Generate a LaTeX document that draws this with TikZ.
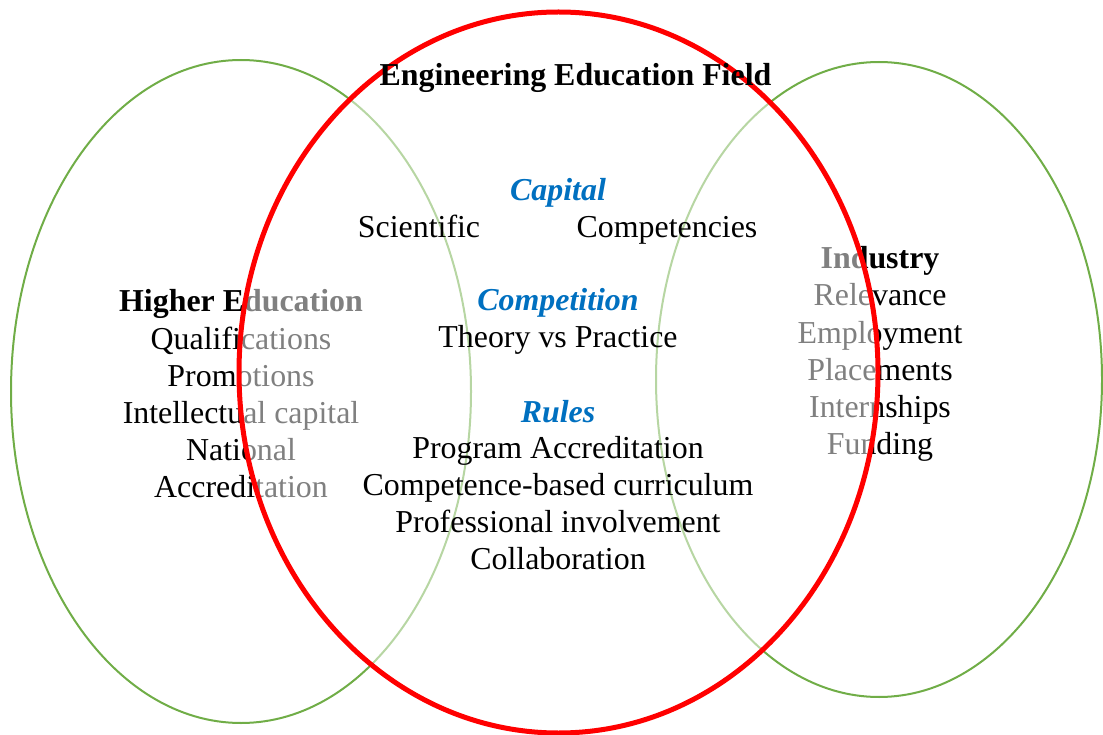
\documentclass[tikz,border=0pt]{standalone}
\usepackage{fontspec}
\setmainfont{Liberation Serif}
\definecolor{vgreen}{HTML}{70AD47}
\definecolor{vblue}{HTML}{0070C0}
\begin{document}
\begin{tikzpicture}[x=1pt,y=-1pt,
  txt/.style={inner sep=0pt,anchor=base,font=\fontsize{31.9}{37}\selectfont},
  head/.style={txt,font=\fontsize{31.9}{37}\selectfont\bfseries},
  cat/.style={txt,text=vblue,font=\fontsize{31.9}{37}\selectfont\bfseries\itshape},
  greenell/.style={draw=vgreen,line width=2pt},
  redell/.style={draw=red,line width=5pt}]
\useasboundingbox (0,0) rectangle (1103,735);
% green ellipses
\draw[greenell] (241,391.5) ellipse [x radius=230, y radius=331.5];
\draw[greenell] (879,379.5) ellipse [x radius=223, y radius=317.5];
% left text
\node[head] (he) at (241,312) {Higher Education};
\node[txt] (qual) at (241,349) {Qualifications};
\node[txt] (prom) at (241,386) {Promotions};
\node[txt] (intel) at (241,423) {Intellectual capital};
\node[txt] (nat) at (241,460) {National};
\node[txt] (accr) at (241,497) {Accreditation};
% right text
\node[head] (ind) at (880,269) {Industry};
\node[txt] (rel) at (880,306) {Relevance};
\node[txt] (emp) at (880,343) {Employment};
\node[txt] (plac) at (880,380) {Placements};
\node[txt] (intern) at (880,417) {Internships};
\node[txt] (fund) at (880,454) {Funding};
% red ellipse with translucent white fill
\fill[white,fill opacity=0.5] (558.5,372.5) ellipse [x radius=319.5, y radius=360.5];
\draw[redell] (558.5,372.5) ellipse [x radius=319.5, y radius=360.5];
% centre text
\node[head] (title) at (575.5,86) {Engineering Education Field};
\node[cat] (capital) at (558,201) {Capital};
\node[txt] (sci) at (419,238) {Scientific};
\node[txt] (comp) at (667,238) {Competencies};
\node[cat] (competition) at (558,311) {Competition};
\node[txt] (theory) at (558,348) {Theory vs Practice};
\node[cat] (rules) at (558,422) {Rules};
\node[txt] (prog) at (558,458) {Program Accreditation};
\node[txt] (cbc) at (558,495) {Competence-based curriculum};
\node[txt] (prof) at (558,532) {Professional involvement};
\node[txt] (collab) at (558,569) {Collaboration};
\end{tikzpicture}
\end{document}
